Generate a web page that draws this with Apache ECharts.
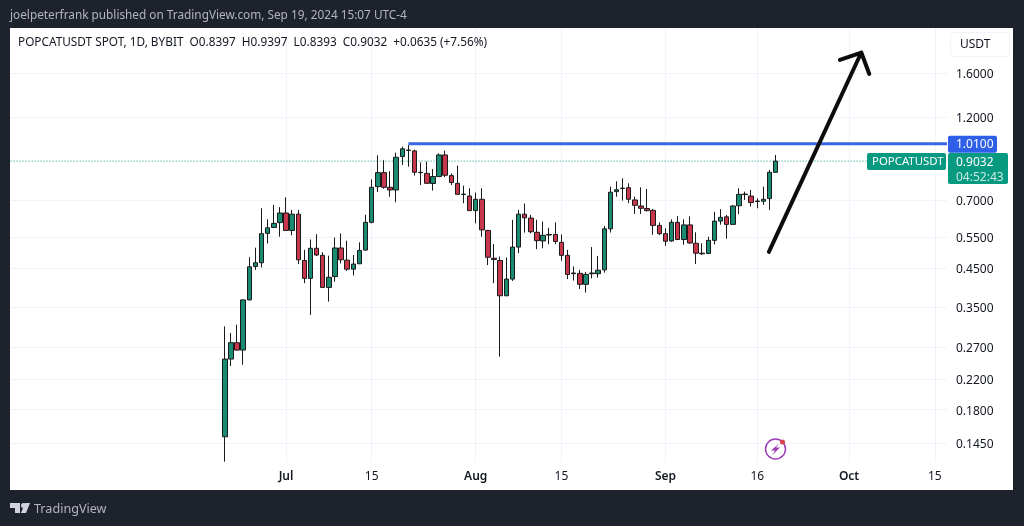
<!DOCTYPE html>
<html>
<head>
<meta charset="utf-8">
<style>
  html, body { margin: 0; padding: 0; background: #1e222d; }
  #chart { width: 1024px; height: 526px; }
</style>
<script src="https://cdn.jsdelivr.net/npm/echarts@6/dist/echarts.min.js"></script>
</head>
<body>
<div id="chart"></div>
<script>
// daily candles, Jun 21 - Sep 19 2024
const opens = [
  .151,.250,.278,.265,.367,.456,.467,.565,.587,.606,
  .645,.576,.640,.474,.422,.513,.490,.398,.427,.514,
  .475,.448,.464,.507,.607,.765,.838,.762,.749,.930,
  .968,.965,.840,.834,.781,.817,.940,.822,.782,.729,
  .720,.655,.705,.576,.481,.474,.377,.420,.517,.640,
  .624,.569,.538,.561,.561,.533,.490,.437,.436,.406,
  .435,.435,.446,.582,.741,.756,.760,.702,.675,.664,
  .656,.595,.564,.538,.607,.543,.597,.530,.497,.496,
  .540,.612,.629,.599,.676,.729,.720,.697,.696,.708,
  .8397
]
const closes = [
  .250,.278,.265,.367,.455,.467,.564,.586,.603,.645,
  .576,.640,.476,.422,.513,.491,.398,.425,.514,.476,
  .448,.463,.506,.607,.762,.838,.762,.749,.926,.978,
  .970,.840,.838,.782,.817,.940,.824,.786,.728,.727,
  .655,.705,.578,.484,.477,.377,.420,.517,.640,.625,
  .571,.539,.558,.559,.536,.490,.433,.435,.406,.433,
  .437,.445,.582,.738,.750,.758,.705,.678,.665,.655,
  .595,.564,.537,.607,.543,.597,.531,.497,.495,.540,
  .612,.627,.599,.675,.728,.727,.690,.695,.705,.840,
  .9032
]
const lows = [
  .1285,.239,.264,.241,.366,.446,.453,.529,.586,.553,
  .575,.558,.463,.409,.333,.488,.397,.363,.413,.465,
  .443,.430,.463,.506,.603,.739,.755,.717,.692,.881,
  .871,.822,.773,.781,.746,.816,.814,.773,.727,.687,
  .654,.603,.553,.460,.409,.254,.376,.415,.497,.568,
  .565,.510,.513,.527,.527,.473,.420,.416,.394,.385,
  .422,.424,.438,.568,.717,.699,.687,.641,.641,.651,
  .560,.559,.521,.535,.541,.525,.528,.463,.491,.494,
  .526,.598,.546,.598,.640,.702,.673,.665,.680,.658,
  .8393
]
const highs = [
  .309,.296,.3125,.368,.484,.515,.665,.619,.680,.670,
  .714,.658,.658,.508,.543,.562,.500,.489,.550,.565,
  .539,.491,.533,.638,.802,.938,.908,.846,.954,.992,
  1.003,.973,.896,.900,.858,.950,.967,.834,.877,.770,
  .757,.737,.757,.578,.527,.486,.483,.617,.658,.686,
  .637,.617,.610,.586,.607,.561,.508,.456,.446,.440,
  .517,.488,.593,.765,.792,.808,.782,.717,.762,.754,
  .662,.607,.584,.619,.632,.619,.631,.569,.530,.553,
  .650,.661,.637,.679,.757,.741,.749,.709,.765,.853,
  .9397
]
const priceTicks = [0.145, 0.18, 0.22, 0.27, 0.35, 0.45, 0.55, 0.7, 1.2, 1.6]
const dateTicks = ['2024-07-01', '2024-07-15', '2024-08-01', '2024-08-15', '2024-09-01', '2024-09-16', '2024-10-01', '2024-10-15']
const dateTickLabels = ['Jul', '15', 'Aug', '15', 'Sep', '16', 'Oct', '15']
const levelPrice = 1.01
const lastPrice = 0.9032
// arrow drawn on the chart, [bar position, price]
const arrowPoints = [[123.9, 0.501], [139, 1.827], [135.5, 1.741], [139, 1.827], [140.3, 1.59]]

const FONT = '"Noto Sans", sans-serif'
const TEXT = '#131722'
const GREEN = '#1b8a72'
const RED = '#c8364c'
const GRID = '#f0f3fa'

// axis runs May 17 -> Oct 17, first candle sits on Jun 21
const days = []
for (let i = 0; i <= 153; i++) {
  days.push(new Date(Date.UTC(2024, 4, 17 + i)).toISOString().slice(0, 10))
}
const firstCandle = days.indexOf('2024-06-21')
const candleData = opens.map((o, i) => [firstCandle + i, o, closes[i], lows[i], highs[i]])

const isDateTick = (i, value) => dateTicks.includes(value)

const chart = echarts.init(document.getElementById('chart'), null, { renderer: 'canvas' })

chart.setOption({
  animation: false,
  backgroundColor: '#1e222d',
  textStyle: { fontFamily: FONT },
  grid: { left: 10.6, width: 936.4, top: 28, height: 434 },
  xAxis: [
    {
      type: 'category',
      data: days,
      boundaryGap: false,
      axisLine: { show: false },
      axisTick: { show: false },
      splitLine: { show: true, interval: isDateTick, lineStyle: { color: GRID, width: 1 } },
      axisLabel: {
        interval: isDateTick,
        margin: 9,
        color: TEXT,
        fontSize: 12,
        fontFamily: FONT,
        formatter: (value) => {
          const label = dateTickLabels[dateTicks.indexOf(value)]
          return isNaN(label) ? '{m|' + label + '}' : label
        },
        rich: { m: { fontWeight: 600, fontSize: 12, fontFamily: FONT, color: TEXT } }
      }
    },
    // hidden copy of the axis so the arrow can sit between two bars
    { type: 'value', min: 0, max: 153, show: false }
  ],
  yAxis: {
    type: 'log',
    position: 'right',
    min: 0.1282,
    max: 2.142,
    axisLine: { show: false },
    axisTick: { show: false, customValues: priceTicks },
    splitLine: { show: true, lineStyle: { color: GRID, width: 1 } },
    axisLabel: {
      customValues: priceTicks,
      margin: 9,
      color: TEXT,
      fontSize: 12,
      fontFamily: FONT,
      formatter: (v) => '{p|' + Number(v).toFixed(4) + '}',
      // rich padding pushes the digits down onto the grid line
      rich: { p: { fontSize: 12, fontFamily: FONT, color: TEXT, padding: [3, 0, 0, 0] } }
    }
  },
  series: [
    {
      type: 'candlestick',
      data: candleData,
      encode: { x: 0, y: [1, 2, 3, 4] },
      barWidth: 5,
      z: 3,
      itemStyle: {
        color: GREEN,
        color0: RED,
        borderColor: '#1a1a1a',
        borderColor0: '#1a1a1a',
        borderWidth: 1
      }
    },
    {
      type: 'line',
      data: [[days[0], lastPrice], [days[153], lastPrice]],
      symbol: 'none',
      z: 2,
      lineStyle: { color: '#089981', width: 1, type: [1, 2] }
    },
    {
      type: 'line',
      data: [[days[65], levelPrice], [days[153], levelPrice]],
      symbol: 'none',
      z: 4,
      lineStyle: { color: '#3a66e0', width: 3, cap: 'butt' }
    },
    {
      type: 'line',
      xAxisIndex: 1,
      data: arrowPoints,
      symbol: 'none',
      z: 5,
      lineStyle: { color: '#0d0d0d', width: 4, cap: 'round', join: 'round' }
    }
  ]
})

// price tags follow the axis
const levelY = chart.convertToPixel({ yAxisIndex: 0 }, levelPrice)
const lastY = chart.convertToPixel({ yAxisIndex: 0 }, lastPrice)

function tagText(x, y, text, fill, size) {
  return { type: 'text', z: 20, style: { x, y: y + 1, text, fill, fontFamily: FONT, fontSize: size || 12, textVerticalAlign: 'middle' } }
}

chart.setOption({
  graphic: [
    // white panel behind the plot
    { type: 'rect', z: -10, silent: true, shape: { x: 10, y: 28, width: 1003, height: 462 }, style: { fill: '#ffffff' } },
    tagText(10, 15, 'joelpeterfrank published on TradingView.com, Sep 19, 2024 15:07 UTC-4', '#b2b5be', 11.8),
    tagText(18, 42, 'POPCATUSDT SPOT, 1D, BYBIT  O0.8397  H0.9397  L0.8393  C0.9032  +0.0635 (+7.56%)', TEXT, 11.8),
    // currency box
    { type: 'rect', z: 20, shape: { x: 950.5, y: 32.5, width: 59, height: 24, r: 3 }, style: { fill: '#fff', stroke: '#f0f3fa' } },
    tagText(960, 44, 'USDT', TEXT),
    // level tag
    { type: 'rect', z: 20, shape: { x: 948, y: levelY - 8, width: 49, height: 17, r: 2 }, style: { fill: '#2f5fe8' } },
    tagText(956, levelY, levelPrice.toFixed(4), '#ffffff'),
    // last price tags
    { type: 'rect', z: 20, shape: { x: 867, y: lastY - 8, width: 79, height: 17, r: 2 }, style: { fill: '#089981' } },
    tagText(872, lastY, 'POPCATUSDT', '#ffffff', 11.4),
    { type: 'rect', z: 20, shape: { x: 948, y: lastY - 8, width: 60, height: 31, r: 2 }, style: { fill: '#089981' } },
    tagText(956, lastY, lastPrice.toFixed(4), '#ffffff'),
    tagText(956, lastY + 15, '04:52:43', '#c8eae2'),
    // lightning badge
    { type: 'circle', z: 20, shape: { cx: 775.5, cy: 449, r: 10 }, style: { fill: 'none', stroke: '#9c3fb5', lineWidth: 1.5 } },
    { type: 'polygon', z: 20, shape: { points: [[779, 443.5], [771, 450.5], [775, 450.5], [772.5, 455], [780, 447.5], [776, 447.5]] }, style: { fill: '#9c3fb5' } },
    { type: 'circle', z: 21, shape: { cx: 782.5, cy: 442, r: 2.5 }, style: { fill: '#d9434e' } },
    // TradingView mark
    { type: 'polygon', z: 20, shape: { points: [[10, 503], [20, 503], [20, 513], [15, 513], [15, 508], [10, 508]] }, style: { fill: '#d1d4dc' } },
    { type: 'circle', z: 20, shape: { cx: 23.5, cy: 505.5, r: 2.5 }, style: { fill: '#d1d4dc' } },
    { type: 'polygon', z: 20, shape: { points: [[25, 503], [30, 503], [26, 513], [21, 513]] }, style: { fill: '#d1d4dc' } },
    { type: 'text', z: 20, style: { x: 34, y: 509, text: 'TradingView', fill: '#b2b5be', fontFamily: FONT, fontSize: 12.6, textVerticalAlign: 'middle' } }
  ]
})
</script>
</body>
</html>
